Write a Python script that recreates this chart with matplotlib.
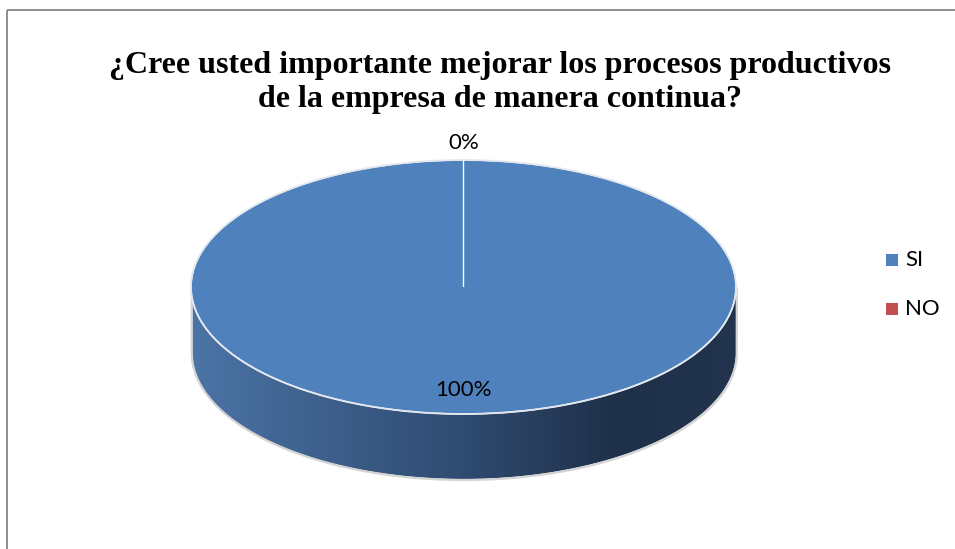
import numpy as np
import matplotlib
matplotlib.use("Agg")
import matplotlib.pyplot as plt
from matplotlib.patches import Polygon, Rectangle
from matplotlib.colors import LinearSegmentedColormap

# Survey answers
categories = ["SI", "NO"]
values = [100, 0]
colors = ["#4F81BD", "#C0504D"]
title_lines = ["¿Cree usted importante mejorar los procesos productivos",
               "de la empresa de manera continua?"]

W, H = 955, 549
fig = plt.figure(figsize=(W / 100, H / 100), dpi=100)
fig.patch.set_facecolor("white")

# Background axes in pixel units (y grows downward)
bg = fig.add_axes([0, 0, 1, 1])
bg.set_xlim(0, W)
bg.set_ylim(H, 0)
bg.axis("off")

# Chart frame (runs off the right and bottom edges)
bg.add_patch(Rectangle((7, 10), W + 20, H + 20, fill=False,
                       edgecolor="#8e8e8e", linewidth=1.4))

# Title
for y, line in zip([73.5, 107.5], title_lines):
    bg.text(500, y, line, ha="center", va="baseline",
            family="Liberation Serif", fontweight="bold", fontsize=23,
            color="black")

# Pie geometry (pixels)
cx, cy, rx, ry, depth = 463.5, 287, 272.5, 127, 65

# Side wall of the disc with a horizontal shading gradient
t = np.linspace(0, np.pi, 300)
lower = np.column_stack([cx + rx * np.cos(t), cy + depth + ry * np.sin(t)])
upper = np.column_stack([cx + rx * np.cos(t[::-1]), cy + ry * np.sin(t[::-1])])
side = Polygon(np.vstack([lower, upper]), closed=True, facecolor="none",
               edgecolor="none", zorder=2)
bg.add_patch(side)
side_cmap = LinearSegmentedColormap.from_list(
    "side", [(0.0, "#4b74a6"), (0.25, "#3d5f8b"), (0.5, "#2f4b71"),
             (0.78, "#1f3049"), (1.0, "#22344e")])
grad = np.linspace(0, 1, 512)[None, :]
img = bg.imshow(grad, cmap=side_cmap, aspect="auto",
                extent=[cx - rx, cx + rx, cy + depth + ry + 2, cy - 2],
                interpolation="bilinear", zorder=1)
img.set_clip_path(side)

# Soft grey outline along the outer side of the wall
outline = np.vstack([[cx + rx, cy], lower, [cx - rx, cy]])
bg.plot(outline[:, 0] + 0.8, outline[:, 1] + 1.0, color="#d4d4d4",
        linewidth=1.6, zorder=3, solid_capstyle="round")

# Top face drawn as a pie on a stretched axes
pax = fig.add_axes([(cx - rx) / W, (H - (cy + ry)) / H, 2 * rx / W, 2 * ry / H])
wedges, _ = pax.pie(values, colors=colors, startangle=90, counterclock=False,
                    radius=1, wedgeprops=dict(edgecolor="white", linewidth=1.0))
for w in wedges:
    w.set_clip_on(False)
pax.set_aspect("auto")
pax.set_xlim(-1, 1)
pax.set_ylim(-1, 1)
pax.axis("off")

# Light rim around the top face
a = np.linspace(0, 2 * np.pi, 400)
pax.plot(np.cos(a), np.sin(a), color="#e4e8ee", linewidth=1.3,
         clip_on=False, zorder=5)

# Percentage labels
total = sum(values)
label_pos = [(0, -0.81), (0, 1.13)]
for v, (lx, ly) in zip(values, label_pos):
    pax.text(lx, ly, f"{v / total * 100:.0f}%", ha="center", va="center",
             family="Lato", fontsize=16, color="black", clip_on=False)

# Legend
for i, (name, col) in enumerate(zip(categories, colors)):
    y = 260 + 48.7 * i
    bg.add_patch(Rectangle((886, y - 6), 12, 12, facecolor=col,
                           edgecolor="none"))
    bg.text(905, y, name, ha="left", va="center", family="Lato",
            fontsize=16, color="black")

fig.savefig("out.png", dpi=100, facecolor="white")
